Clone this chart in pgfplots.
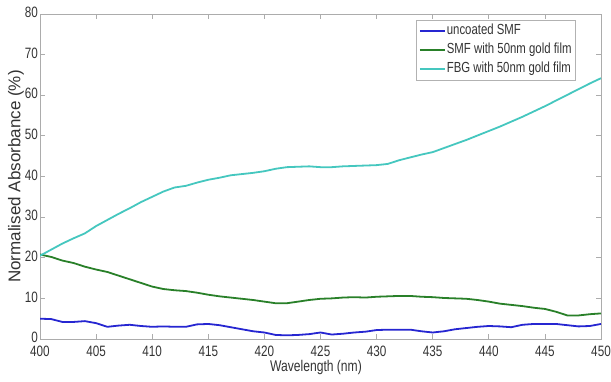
\documentclass[border=0pt]{standalone}
\usepackage{pgfplots}
\pgfplotsset{compat=1.18}
\usepackage{fontspec}
\setmainfont{Liberation Sans}[FakeStretch=0.78]
\newfontfamily\ylabfont{Liberation Sans}

\definecolor{cUncoated}{rgb}{0.15,0.15,0.82}
\definecolor{cSMF}{rgb}{0.16,0.50,0.16}
\definecolor{cFBG}{rgb}{0.27,0.78,0.75}

\begin{document}
\begin{tikzpicture}
\useasboundingbox (-40bp,-43bp) rectangle (571bp,339bp);
\begin{axis}[
  at={(0,0)}, anchor=south west,
  scale only axis, width=561bp, height=325bp,
  xmin=400, xmax=450, ymin=0, ymax=80,
  xtick={400,405,...,450}, ytick={0,10,...,80},
  tick align=inside, major tick length=5bp,
  axis line style={gray!65, line width=0.8bp},
  tick style={gray!65, line width=0.8bp},
  /pgf/number format/assume math mode=true,
  tick label style={font=\fontsize{15bp}{15bp}\selectfont, text=black!80},
  xticklabel style={inner sep=0pt, yshift=-7bp},
  yticklabel style={inner sep=0pt, xshift=-2bp, yshift=1.5bp},
  xlabel={Wavelength (nm)},
  xlabel style={at={(rel axis cs:0.492,0)}, anchor=north, inner sep=0pt, yshift=-21.5bp,
    font=\fontsize{15.5bp}{15.5bp}\selectfont, text=black!80},
  ylabel={Normalised Absorbance (\%)},
  ylabel style={at={(rel axis cs:0,0.5)}, anchor=center, inner sep=0pt, yshift=24bp,
    font=\ylabfont\fontsize{17bp}{17bp}\selectfont, text=black!80},
  legend style={at={(rel axis cs:0.955,0.983)}, anchor=north east,
    draw=gray!60, inner sep=3bp, row sep=3bp,
    font=\fontsize{14.6bp}{14.6bp}\selectfont, text=black!80,
    nodes={inner sep=1bp, text height=11bp, text depth=3bp}},
  legend cell align=left,
  legend image code/.code={\draw[#1] (0bp,0bp) -- (25bp,0bp);},
  every axis plot/.append style={line width=1.8bp},
]
\addplot[cUncoated] coordinates {
(400,5.0) (401,4.9) (402,4.2) (403,4.2) (404,4.4) (405,3.9) (406,3.0) (407,3.3)
(408,3.5) (409,3.2) (410,3.0) (411,3.1) (412,3.0) (413,3.0) (414,3.6) (415,3.7)
(416,3.4) (417,2.9) (418,2.4) (419,1.9) (420,1.6) (421,1.0) (422,0.9) (423,1.0)
(424,1.2) (425,1.6) (426,1.1) (427,1.3) (428,1.6) (429,1.8) (430,2.2) (431,2.3)
(432,2.3) (433,2.3) (434,1.9) (435,1.6) (436,1.9) (437,2.4) (438,2.7) (439,3.0)
(440,3.2) (441,3.1) (442,2.9) (443,3.5) (444,3.7) (445,3.7) (446,3.7) (447,3.4)
(448,3.1) (449,3.2) (450,3.7)
};
\addlegendentry{uncoated SMF}
\addplot[cSMF] coordinates {
(400,20.8) (401,20.2) (402,19.3) (403,18.7) (404,17.8) (405,17.1) (406,16.5)
(407,15.6) (408,14.7) (409,13.8) (410,12.9) (411,12.3) (412,12.0) (413,11.8)
(414,11.4) (415,10.9) (416,10.5) (417,10.2) (418,9.9) (419,9.6) (420,9.2)
(421,8.8) (422,8.8) (423,9.2) (424,9.6) (425,9.9) (426,10.0) (427,10.2)
(428,10.3) (429,10.2) (430,10.4) (431,10.5) (432,10.6) (433,10.6) (434,10.4)
(435,10.3) (436,10.1) (437,10.0) (438,9.9) (439,9.6) (440,9.2) (441,8.7)
(442,8.4) (443,8.1) (444,7.7) (445,7.4) (446,6.7) (447,5.8) (448,5.8)
(449,6.1) (450,6.3)
};
\addlegendentry{SMF with 50nm gold film}
\addplot[cFBG] coordinates {
(400,20.5) (401,22.0) (402,23.5) (403,24.8) (404,26.0) (405,27.8) (406,29.3)
(407,30.8) (408,32.2) (409,33.7) (410,35.0) (411,36.3) (412,37.3) (413,37.7)
(414,38.5) (415,39.2) (416,39.7) (417,40.3) (418,40.6) (419,40.9) (420,41.3)
(421,41.9) (422,42.3) (423,42.4) (424,42.5) (425,42.3) (426,42.3) (427,42.5)
(428,42.6) (429,42.7) (430,42.8) (431,43.1) (432,44.0) (433,44.7) (434,45.4)
(435,46.0) (436,47.0) (437,48.0) (438,49.0) (439,50.1) (440,51.2) (441,52.3)
(442,53.5) (443,54.7) (444,56.0) (445,57.3) (446,58.7) (447,60.1) (448,61.5)
(449,62.9) (450,64.2)
};
\addlegendentry{FBG with 50nm gold film}
\end{axis}
\end{tikzpicture}
\end{document}
